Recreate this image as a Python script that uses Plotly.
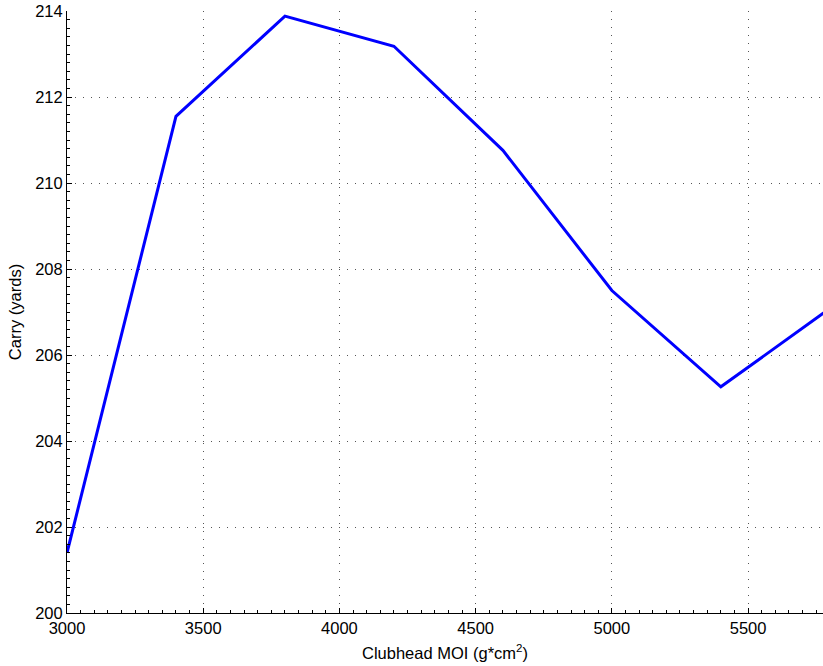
import plotly.graph_objects as go

# Clubhead moment of inertia (g*cm^2) vs. carry distance (yards)
moi = [3000, 3400, 3800, 4200, 4600, 5000, 5400, 5800]
carry = [201.4, 211.55, 213.88, 213.18, 210.76, 207.5, 205.26, 207.08]

x_ticks = [3000, 3500, 4000, 4500, 5000, 5500]
y_ticks = [200, 202, 204, 206, 208, 210, 212, 214]

font_family = "Liberation Sans, Arial, Helvetica, sans-serif"
font_size = 16.5

fig = go.Figure(
    go.Scatter(
        x=moi,
        y=carry,
        mode="lines",
        line=dict(color="#0000FF", width=3),
        showlegend=False,
    )
)

axis_common = dict(
    showline=True,
    linecolor="black",
    linewidth=1,
    ticks="inside",
    ticklen=5,
    tickcolor="black",
    showgrid=True,
    gridcolor="#555555",
    griddash="1px,7px",
    gridwidth=1,
    zeroline=False,
    mirror=False,
    tickfont=dict(family=font_family, size=font_size, color="black"),
)

fig.update_xaxes(
    range=[3000, 5775],
    tickvals=x_ticks,
    ticktext=[str(v) for v in x_ticks],
    minor=dict(ticks="inside", ticklen=3, dtick=50, tick0=3000, tickcolor="black", showgrid=False),
    title=dict(text="Clubhead MOI (g*cm<sup>2</sup>)", font=dict(family=font_family, size=font_size, color="black"), standoff=11),
    **axis_common,
)
fig.update_yaxes(
    range=[200, 214],
    tickvals=y_ticks,
    ticktext=[str(v) for v in y_ticks],
    minor=dict(ticks="inside", ticklen=3, dtick=0.2, tick0=200, tickcolor="black", showgrid=False),
    title=dict(text="Carry (yards)", font=dict(family=font_family, size=font_size, color="black"), standoff=9),
    **axis_common,
)

fig.update_layout(
    width=823,
    height=666,
    margin=dict(l=67, r=0, t=11, b=53),
    paper_bgcolor="white",
    plot_bgcolor="white",
    font=dict(family=font_family, size=font_size, color="black"),
)

fig.write_html("out.html")
